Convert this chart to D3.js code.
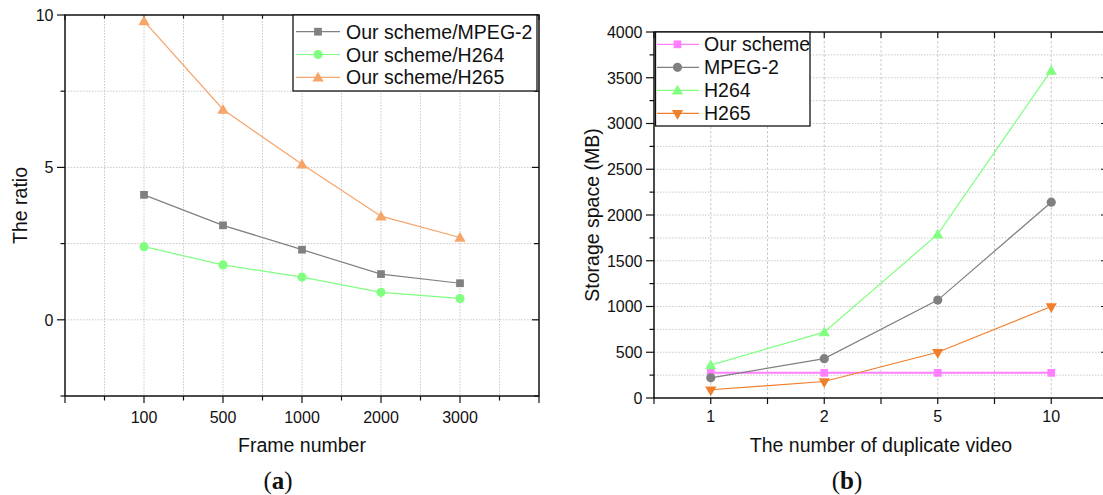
<!DOCTYPE html>
<html>
<head>
<meta charset="utf-8">
<script src="https://cdn.jsdelivr.net/npm/d3@7"></script>
<style>
  html, body { margin: 0; padding: 0; background: #fff; }
  svg { display: block; }
  text { font-family: "Liberation Sans", Arial, sans-serif; fill: #111; }
</style>
</head>
<body>
<svg id="chart" width="1103" height="495"></svg>
<script>
// ---------- DATA ----------
const frameLabels = ["100", "500", "1000", "2000", "3000"];
const ratioMPEG2 = [4.1, 3.1, 2.3, 1.5, 1.2];
const ratioH264  = [2.4, 1.8, 1.4, 0.9, 0.7];
const ratioH265  = [9.8, 6.9, 5.1, 3.4, 2.7];

const dupLabels   = ["1", "2", "5", "10"];
const storOurs    = [275, 275, 275, 275];
const storMPEG2   = [220, 430, 1070, 2140];
const storH264    = [360, 720, 1790, 3580];
const storH265    = [90, 180, 500, 1000];

const leftYTicks  = [0, 5, 10];
const rightYTicks = [0, 500, 1000, 1500, 2000, 2500, 3000, 3500, 4000];

// ---------- STYLE ----------
const C = {
  grey: "#808080", green: "#80ff80", orangeA: "#f5a46a",
  orangeB: "#f07e2a", pink: "#ff80ff", grid: "#c8c8c8", axis: "#111"
};

const svg = d3.select("#chart");

function marker(g, shape, x, y, color) {
  const sym = {
    square: d3.symbolSquare, circle: d3.symbolCircle,
    up: d3.symbolTriangle, down: d3.symbolTriangle
  }[shape];
  const size = {square: 60, circle: 66, up: 55, down: 55}[shape];
  return g.append("path")
    .attr("d", d3.symbol().type(sym).size(size)())
    .attr("fill", color)
    .attr("transform", `translate(${x},${y})` + (shape === "down" ? " rotate(180)" : "") + (shape === "up" ? " translate(0,1)" : ""));
}

function frame(g, x0, x1, y0, y1) {
  g.append("rect").attr("x", x0).attr("y", y0).attr("width", x1 - x0).attr("height", y1 - y0)
    .attr("fill", "none").attr("stroke", C.axis).attr("stroke-width", 1.5);
}

// ================= LEFT CHART (a) =================
{
  const x = d3.scaleLinear().domain([0, 6]).range([65, 539]);
  const y = d3.scaleLinear().domain([-2.5, 10]).range([396, 15]);
  const g = svg.append("g");

  const vgrid = d3.range(0.5, 6, 0.5);
  const hgrid = [0, 2.5, 5, 7.5];
  g.selectAll(".vg").data(vgrid).join("line")
    .attr("x1", d => x(d)).attr("x2", d => x(d)).attr("y1", y(10)).attr("y2", y(-2.5))
    .attr("stroke", C.grid).attr("stroke-width", 1).attr("stroke-dasharray", "1.5,1.5");
  g.selectAll(".hg").data(hgrid).join("line")
    .attr("y1", d => y(d)).attr("y2", d => y(d)).attr("x1", x(0)).attr("x2", x(6))
    .attr("stroke", C.grid).attr("stroke-width", 1).attr("stroke-dasharray", "1.5,1.5");

  const xt = d3.range(0, 6.01, 0.5);
  const yt = d3.range(-2.5, 10.01, 2.5);
  const isMajX = d => Math.abs(d - Math.round(d)) < 1e-6;
  const isMajY = d => leftYTicks.includes(d);
  g.selectAll(".bt").data(xt).join("line")
    .attr("x1", d => x(d)).attr("x2", d => x(d)).attr("y1", y(-2.5)).attr("y2", d => y(-2.5) + (isMajX(d) ? 7 : 4.5))
    .attr("stroke", C.axis).attr("stroke-width", 1.2);
  g.selectAll(".tt").data(xt).join("line")
    .attr("x1", d => x(d)).attr("x2", d => x(d)).attr("y1", y(10)).attr("y2", d => y(10) + (isMajX(d) ? 5 : 3.5))
    .attr("stroke", C.axis).attr("stroke-width", 1.2);
  g.selectAll(".lt").data(yt).join("line")
    .attr("y1", d => y(d)).attr("y2", d => y(d)).attr("x1", x(0)).attr("x2", d => x(0) - (isMajY(d) ? 8 : 4.5))
    .attr("stroke", C.axis).attr("stroke-width", 1.2);
  g.selectAll(".rt").data(yt).join("line")
    .attr("y1", d => y(d)).attr("y2", d => y(d)).attr("x1", x(6)).attr("x2", d => x(6) - (isMajY(d) ? 7 : 5))
    .attr("stroke", C.axis).attr("stroke-width", 1.2);

  frame(g, x(0), x(6), y(10), y(-2.5));

  g.selectAll(".yl").data(leftYTicks).join("text")
    .attr("x", x(0) - 11.5).attr("y", d => y(d) + 5.8).attr("text-anchor", "end")
    .style("font-size", "16px").text(d => d);
  g.selectAll(".xl").data(frameLabels).join("text")
    .attr("x", (d, i) => x(i + 1)).attr("y", 423).attr("text-anchor", "middle")
    .style("font-size", "16px").text(d => d);

  g.append("text").attr("x", (x(0) + x(6)) / 2).attr("y", 452).attr("text-anchor", "middle")
    .style("font-size", "19.5px").text("Frame number");
  g.append("text").attr("transform", `translate(27,${(y(10) + y(-2.5)) / 2}) rotate(-90)`)
    .attr("text-anchor", "middle").style("font-size", "19.5px").text("The ratio");

  const series = [
    {name: "Our scheme/MPEG-2", vals: ratioMPEG2, color: C.grey, shape: "square"},
    {name: "Our scheme/H264", vals: ratioH264, color: C.green, shape: "circle"},
    {name: "Our scheme/H265", vals: ratioH265, color: C.orangeA, shape: "up"}
  ];
  const line = d3.line().x((d, i) => x(i + 1)).y(d => y(d));
  series.forEach(s => {
    g.append("path").attr("d", line(s.vals)).attr("fill", "none").attr("stroke", s.color).attr("stroke-width", 1.2);
    s.vals.forEach((v, i) => marker(g, s.shape, x(i + 1), y(v), s.color));
  });

  const lg = g.append("g");
  lg.append("rect").attr("x", 293).attr("y", 15).attr("width", 244).attr("height", 76)
    .attr("fill", "#fff").attr("stroke", C.axis).attr("stroke-width", 1.3);
  series.forEach((s, i) => {
    const cy = 31.7 + i * 22.8;
    lg.append("line").attr("x1", 296).attr("x2", 340).attr("y1", cy).attr("y2", cy)
      .attr("stroke", s.color).attr("stroke-width", 1.2);
    marker(lg, s.shape, 318, cy, s.color);
    lg.append("text").attr("x", 346).attr("y", cy + 7).style("font-size", "19.5px").text(s.name);
  });

  const lab = g.append("text").attr("x", 278).attr("y", 489).attr("text-anchor", "middle")
    .style("font-family", "'Liberation Serif', 'DejaVu Serif', serif").style("font-size", "25px");
  lab.append("tspan").text("(");
  lab.append("tspan").style("font-weight", "bold").text("a");
  lab.append("tspan").text(")");
}

// ================= RIGHT CHART (b) =================
{
  const x = d3.scaleLinear().domain([0.5, 4.5]).range([654, 1108]);
  const y = d3.scaleLinear().domain([0, 4000]).range([398, 32]);
  const g = svg.append("g");

  const vgrid = d3.range(1, 4.5, 0.5);
  const hgrid = d3.range(250, 4000, 250);
  g.selectAll(".vg").data(vgrid).join("line")
    .attr("x1", d => x(d)).attr("x2", d => x(d)).attr("y1", y(4000)).attr("y2", y(0))
    .attr("stroke", C.grid).attr("stroke-width", 1).attr("stroke-dasharray", "2.5,2");
  g.selectAll(".hg").data(hgrid).join("line")
    .attr("y1", d => y(d)).attr("y2", d => y(d)).attr("x1", x(0.5)).attr("x2", x(4.5))
    .attr("stroke", C.grid).attr("stroke-width", 1).attr("stroke-dasharray", "1.5,1.5");

  const xt = d3.range(0.5, 4.51, 0.5);
  const yt = d3.range(0, 4001, 250);
  const isMajY = d => d % 500 === 0;
  g.selectAll(".bt").data(xt).join("line")
    .attr("x1", d => x(d)).attr("x2", d => x(d)).attr("y1", y(0)).attr("y2", y(0) + 6)
    .attr("stroke", C.axis).attr("stroke-width", 1.2);
  g.selectAll(".tt").data(xt).join("line")
    .attr("x1", d => x(d)).attr("x2", d => x(d)).attr("y1", y(4000)).attr("y2", y(4000) + 6)
    .attr("stroke", C.axis).attr("stroke-width", 1.2);
  g.selectAll(".lt").data(yt).join("line")
    .attr("y1", d => y(d)).attr("y2", d => y(d)).attr("x1", x(0.5)).attr("x2", d => x(0.5) - (isMajY(d) ? 8 : 4.5))
    .attr("stroke", C.axis).attr("stroke-width", 1.2);
  g.selectAll(".rt").data(yt).join("line")
    .attr("y1", d => y(d)).attr("y2", d => y(d)).attr("x1", x(4.5)).attr("x2", d => x(4.5) - (isMajY(d) ? 7 : 4.5))
    .attr("stroke", C.axis).attr("stroke-width", 1.2);

  frame(g, x(0.5), x(4.5), y(4000), y(0));

  g.selectAll(".yl").data(rightYTicks).join("text")
    .attr("x", x(0.5) - 11.5).attr("y", d => y(d) + 5.8).attr("text-anchor", "end")
    .style("font-size", "16px").text(d => d);
  g.selectAll(".xl").data(dupLabels).join("text")
    .attr("x", (d, i) => x(i + 1)).attr("y", 422).attr("text-anchor", "middle")
    .style("font-size", "16px").text(d => d);

  g.append("text").attr("x", (x(0.5) + x(4.5)) / 2).attr("y", 452).attr("text-anchor", "middle")
    .style("font-size", "19.5px").text("The number of duplicate video");
  g.append("text").attr("transform", `translate(599,${(y(0) + y(4000)) / 2}) rotate(-90)`)
    .attr("text-anchor", "middle").style("font-size", "19.5px").text("Storage space (MB)");

  const series = [
    {name: "Our scheme", vals: storOurs, color: C.pink, shape: "square", w: 2},
    {name: "MPEG-2", vals: storMPEG2, color: C.grey, shape: "circle", w: 1.2},
    {name: "H264", vals: storH264, color: C.green, shape: "up", w: 1.2},
    {name: "H265", vals: storH265, color: C.orangeB, shape: "down", w: 1.2}
  ];
  const line = d3.line().x((d, i) => x(i + 1)).y(d => y(d));
  series.forEach(s => {
    g.append("path").attr("d", line(s.vals)).attr("fill", "none").attr("stroke", s.color).attr("stroke-width", s.w);
    s.vals.forEach((v, i) => marker(g, s.shape, x(i + 1), y(v), s.color));
  });

  const lg = g.append("g");
  lg.append("rect").attr("x", 655.5).attr("y", 32).attr("width", 154.5).attr("height", 94)
    .attr("fill", "#fff").attr("stroke", C.axis).attr("stroke-width", 1.3);
  series.forEach((s, i) => {
    const cy = 44.3 + i * 23;
    lg.append("line").attr("x1", 657).attr("x2", 699).attr("y1", cy).attr("y2", cy)
      .attr("stroke", s.color).attr("stroke-width", 1.2);
    marker(lg, s.shape, 677.5, cy, s.color);
    lg.append("text").attr("x", 704).attr("y", cy + 7).style("font-size", "19.5px").text(s.name);
  });

  const lab = g.append("text").attr("x", 847).attr("y", 489).attr("text-anchor", "middle")
    .style("font-family", "'Liberation Serif', 'DejaVu Serif', serif").style("font-size", "25px");
  lab.append("tspan").text("(");
  lab.append("tspan").style("font-weight", "bold").text("b");
  lab.append("tspan").text(")");
}
</script>
</body>
</html>
